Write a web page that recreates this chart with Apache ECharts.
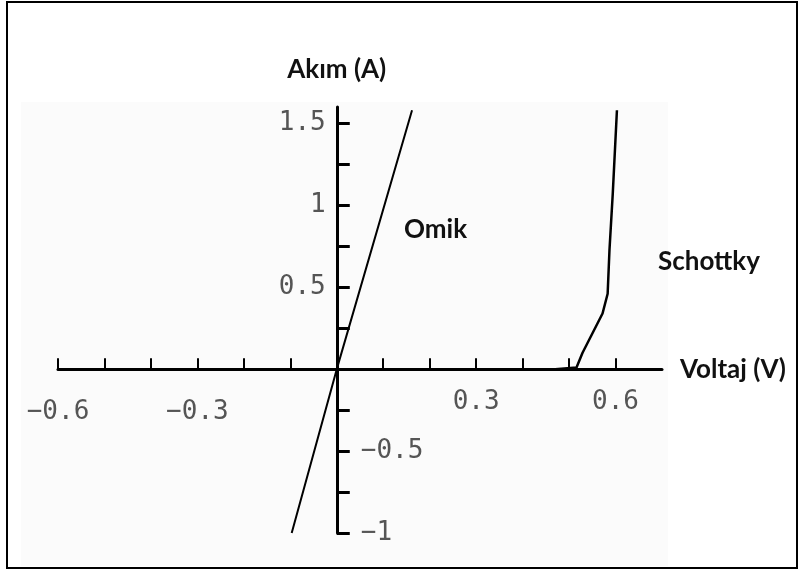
<!DOCTYPE html>
<html>
<head>
<meta charset="utf-8">
<script src="https://cdn.jsdelivr.net/npm/echarts@6/dist/echarts.min.js"></script>
<style>
  html, body { margin: 0; padding: 0; background: #fff; }
  #chart { width: 804px; height: 572px; }
</style>
</head>
<body>
<div id="chart"></div>
<script>
// Voltage (V) values where the x axis carries ticks and labels
const xTickValues = [-0.6, -0.5, -0.4, -0.3, -0.2, -0.1, 0.1, 0.2, 0.3, 0.4, 0.5, 0.6];
const xLabelValues = [-0.6, -0.3, 0.3, 0.6];
// Current (A) values where the y axis carries ticks and labels
const yTickValues = [-1, -0.75, -0.5, -0.25, 0.25, 0.5, 0.75, 1, 1.25, 1.5];
const yLabelsAbove = [0.5, 1, 1.5];
const yLabelsBelow = [-1, -0.5];

// I-V curves: [voltage, current]
const ohmicCurve = [[-0.097, -1], [0, 0], [0.162, 1.58]];
const schottkyCurve = [
  [0.47, 0], [0.516, 0.01], [0.529, 0.10], [0.572, 0.34],
  [0.583, 0.46], [0.587, 0.73], [0.594, 1.07], [0.603, 1.58]
];

const X_MIN = -0.6, X_MAX = 0.7, Y_MIN = -1, Y_MAX = 1.6;
const GRID = { left: 58, right: 142, top: 107, bottom: 39 };
const W = 804, H = 572;

// The axes cross at the origin: shift each axis from the grid edge to the zero line.
const plotW = W - GRID.left - GRID.right;
const plotH = H - GRID.top - GRID.bottom;
const yAxisShift = -plotW * (0 - X_MIN) / (X_MAX - X_MIN);
const xAxisShift = -plotH * (0 - Y_MIN) / (Y_MAX - Y_MIN);

const monoFont = '"DejaVu Sans Mono", "Liberation Mono", monospace';
const boldFont = 'Lato, "Open Sans", sans-serif';
const fmt = v => (v < 0 ? '\u2212' : '') + Math.abs(v);

const chart = echarts.init(document.getElementById('chart'), null, { renderer: 'canvas' });

chart.setOption({
  animation: false,
  backgroundColor: '#ffffff',
  grid: Object.assign({ containLabel: false, outerBoundsMode: 'none' }, GRID),
  xAxis: {
    type: 'value',
    min: X_MIN,
    max: X_MAX,
    offset: xAxisShift,
    name: 'Voltaj (V)',
    nameLocation: 'end',
    nameGap: 18,
    nameTextStyle: { fontFamily: boldFont, fontWeight: 'bold', fontSize: 26, color: '#111', padding: [12, 0, 0, 0] },
    axisLine: { onZero: false, lineStyle: { color: '#000', width: 3 } },
    axisTick: { inside: true, length: 11, customValues: xTickValues, lineStyle: { color: '#000', width: 2 } },
    axisLabel: {
      customValues: xLabelValues,
      margin: 20,
      formatter: v => v < 0 ? '{neg|' + fmt(v) + '}' : '{pos|' + fmt(v) + '}',
      rich: {
        pos: { fontFamily: monoFont, fontSize: 26, color: '#555' },
        neg: { fontFamily: monoFont, fontSize: 26, color: '#555', padding: [10, 0, 0, 0] }
      }
    },
    splitLine: { show: false }
  },
  yAxis: [
    {
      type: 'value',
      min: Y_MIN,
      max: Y_MAX,
      offset: yAxisShift,
      name: 'Akım (A)',
      nameLocation: 'end',
      nameGap: 24,
      nameTextStyle: { fontFamily: boldFont, fontWeight: 'bold', fontSize: 26, color: '#111' },
      axisLine: { onZero: false, lineStyle: { color: '#000', width: 3 } },
      axisTick: { inside: true, length: 13, customValues: yTickValues, lineStyle: { color: '#000', width: 3 } },
      axisLabel: {
        customValues: yLabelsAbove,
        margin: 11,
        fontFamily: monoFont, fontSize: 26, color: '#555',
        formatter: fmt
      },
      splitLine: { show: false }
    },
    {
      type: 'value',
      min: Y_MIN,
      max: Y_MAX,
      position: 'left',
      offset: yAxisShift,
      axisLine: { show: false, onZero: false },
      axisTick: { show: false },
      axisLabel: {
        inside: true,
        customValues: yLabelsBelow,
        margin: 24,
        fontFamily: monoFont, fontSize: 26, color: '#555',
        formatter: fmt
      },
      splitLine: { show: false }
    }
  ],
  series: [
    {
      name: 'Omik',
      type: 'line',
      data: ohmicCurve,
      showSymbol: false,
      lineStyle: { color: '#000', width: 2 },
      z: 5
    },
    {
      name: 'Schottky',
      type: 'line',
      data: schottkyCurve,
      showSymbol: false,
      lineStyle: { color: '#000', width: 2.5 },
      z: 5
    }
  ],
  graphic: [
    { type: 'rect', z: -20, shape: { x: 21, y: 102, width: 647, height: 464 }, style: { fill: '#fbfbfb' } },
    { type: 'rect', z: 50, shape: { x: 7, y: 2, width: 790, height: 566 }, style: { fill: 'none', stroke: '#000', lineWidth: 2 } },
    { type: 'text', z: 50, x: 404, y: 230, style: { text: 'Omik', fontFamily: boldFont, fontWeight: 'bold', fontSize: 26, fill: '#111', verticalAlign: 'middle' } },
    { type: 'text', z: 50, x: 658, y: 262, style: { text: 'Schottky', fontFamily: boldFont, fontWeight: 'bold', fontSize: 26, fill: '#111', verticalAlign: 'middle' } }
  ]
});
</script>
</body>
</html>
